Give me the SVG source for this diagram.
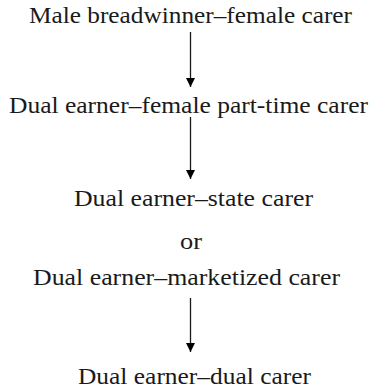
<svg xmlns="http://www.w3.org/2000/svg" width="375" height="388" viewBox="0 0 375 388">
<style>
text{font-family:"Liberation Serif","Times New Roman",serif;font-size:23px;fill:#1a1a1a;text-anchor:middle}
.c{stroke:#1a1a1a;stroke-width:1.3;fill:none}
</style>
<defs>
<marker id="ah" viewBox="0 0 10 10" refX="10" refY="5" markerWidth="10" markerHeight="9" markerUnits="userSpaceOnUse" orient="auto-start-reverse">
<path d="M0,0 L10,5 L0,10 z" fill="#000"/>
</marker>
</defs>
<rect width="375" height="388" fill="#fff"/>
<g id="n1"><text x="190.5" y="23" textLength="323" lengthAdjust="spacingAndGlyphs">Male breadwinner–female carer</text></g>
<g id="n2"><text x="188.5" y="113" textLength="359" lengthAdjust="spacingAndGlyphs">Dual earner–female part-time carer</text></g>
<g id="n3"><text x="193.5" y="206" textLength="239" lengthAdjust="spacingAndGlyphs">Dual earner–state carer</text></g>
<g id="or"><text x="191" y="249" textLength="22" lengthAdjust="spacingAndGlyphs">or</text></g>
<g id="n4"><text x="186.5" y="285" textLength="307" lengthAdjust="spacingAndGlyphs">Dual earner–marketized carer</text></g>
<g id="n5"><text x="194.5" y="384" textLength="233" lengthAdjust="spacingAndGlyphs">Dual earner–dual carer</text></g>
<g id="connectors">
<line class="c" x1="190.5" y1="32" x2="190.5" y2="87" marker-end="url(#ah)"/>
<line class="c" x1="190.5" y1="117" x2="190.5" y2="179" marker-end="url(#ah)"/>
<line class="c" x1="190.5" y1="298" x2="190.5" y2="352" marker-end="url(#ah)"/>
</g>
</svg>
